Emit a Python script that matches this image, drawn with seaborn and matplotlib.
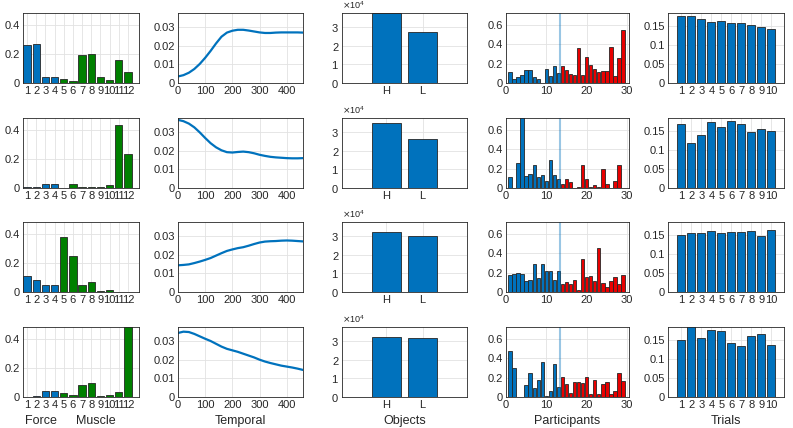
import numpy as np
import pandas as pd
import matplotlib
matplotlib.use("Agg")
import matplotlib.pyplot as plt
import seaborn as sns

# colours (MATLAB-like)
BLUE = "#0072BD"
GREEN = "#008000"
RED = "#E80000"
EDGE = "#262626"
GRID = "#e2e2e2"

# ---- column 1: force / muscle weights, 12 channels ----
muscle_idx = list(range(1, 13))
muscle_groups = ["Force"] * 4 + ["Muscle"] * 8
muscle_rows = [
    [0.26, 0.27, 0.04, 0.04, 0.03, 0.012, 0.195, 0.20, 0.04, 0.02, 0.16, 0.075],
    [0.005, 0.01, 0.03, 0.03, 0.003, 0.025, 0.01, 0.01, 0.01, 0.018, 0.43, 0.23],
    [0.11, 0.085, 0.05, 0.05, 0.38, 0.25, 0.05, 0.07, 0.005, 0.015, 0.0, 0.0],
    [0.0, 0.005, 0.04, 0.04, 0.025, 0.015, 0.08, 0.095, 0.005, 0.015, 0.035, 0.50],
]

# ---- column 2: temporal profiles ----
temporal_t = [0, 20, 40, 60, 80, 100, 120, 140, 160, 180, 200, 220,
              240, 260, 280, 300, 320, 340, 360, 380, 400, 420, 440, 460]
temporal_rows = [
    [0.0035, 0.0042, 0.0055, 0.0075, 0.0102, 0.0135, 0.0172, 0.0212, 0.0248, 0.0270, 0.0280, 0.0285,
     0.0285, 0.0281, 0.0276, 0.0271, 0.0268, 0.0268, 0.0270, 0.0271, 0.0271, 0.0271, 0.0271, 0.0270],
    [0.0365, 0.0358, 0.0345, 0.0325, 0.0298, 0.0268, 0.0240, 0.0218, 0.0202, 0.0192, 0.0190, 0.0193,
     0.0195, 0.0192, 0.0186, 0.0178, 0.0172, 0.0167, 0.0164, 0.0162, 0.0160, 0.0159, 0.0159, 0.0160],
    [0.0143, 0.0145, 0.0148, 0.0155, 0.0163, 0.0172, 0.0182, 0.0195, 0.0208, 0.0220, 0.0228, 0.0235,
     0.0240, 0.0248, 0.0257, 0.0265, 0.0270, 0.0272, 0.0273, 0.0275, 0.0276, 0.0275, 0.0273, 0.0271],
    [0.0343, 0.0350, 0.0348, 0.0338, 0.0325, 0.0312, 0.0300, 0.0285, 0.0270, 0.0258, 0.0250, 0.0242,
     0.0232, 0.0222, 0.0212, 0.0200, 0.0190, 0.0182, 0.0175, 0.0168, 0.0163, 0.0158, 0.0152, 0.0145],
]

# ---- column 3: objects ----
object_labels = ["H", "L"]
object_rows = [
    [37600, 27500],
    [35000, 26200],
    [32000, 30000],
    [32000, 31500],
]

# ---- column 4: participants ----
participant_idx = list(range(1, 30))
participant_groups = ["a"] * 13 + ["b"] * 16
participant_split = 13.5
participant_rows = [
    [0.11, 0.04, 0.06, 0.08, 0.137, 0.13, 0.06, 0.04, 0.0, 0.14, 0.07, 0.17, 0.10,
     0.17, 0.13, 0.09, 0.08, 0.36, 0.08, 0.27, 0.19, 0.145, 0.11, 0.12, 0.125, 0.37, 0.075, 0.26, 0.55],
    [0.11, 0.0, 0.26, 0.75, 0.12, 0.14, 0.24, 0.11, 0.13, 0.07, 0.29, 0.13, 0.09,
     0.04, 0.09, 0.06, 0.0, 0.01, 0.24, 0.09, 0.01, 0.03, 0.01, 0.20, 0.04, 0.0, 0.07, 0.24, 0.0],
    [0.18, 0.19, 0.195, 0.185, 0.11, 0.12, 0.29, 0.145, 0.29, 0.22, 0.22, 0.125, 0.22,
     0.08, 0.10, 0.08, 0.12, 0.02, 0.34, 0.155, 0.165, 0.11, 0.45, 0.09, 0.05, 0.11, 0.155, 0.08, 0.17],
    [0.47, 0.30, 0.0, 0.0, 0.12, 0.25, 0.09, 0.17, 0.36, 0.01, 0.06, 0.34, 0.10,
     0.21, 0.13, 0.04, 0.15, 0.15, 0.14, 0.21, 0.03, 0.17, 0.03, 0.13, 0.15, 0.03, 0.06, 0.25, 0.16],
]

# ---- column 5: trials ----
trial_labels = [str(i) for i in range(1, 11)]
trial_rows = [
    [0.178, 0.176, 0.168, 0.162, 0.165, 0.158, 0.158, 0.154, 0.147, 0.143],
    [0.170, 0.120, 0.140, 0.175, 0.160, 0.178, 0.170, 0.148, 0.155, 0.150],
    [0.150, 0.155, 0.157, 0.162, 0.157, 0.158, 0.158, 0.162, 0.148, 0.163],
    [0.150, 0.190, 0.156, 0.176, 0.174, 0.144, 0.135, 0.161, 0.167, 0.137],
]

# layout in pixels (left, right) per column and top per row
W, H = 793, 428
col_px = [(23, 139), (178, 303), (342, 467), (506, 629), (668, 784)]
row_top = [13, 118, 222, 327]
row_h = 70

sns.set_theme(style="white")
plt.rcParams["font.family"] = ["Liberation Sans", "DejaVu Sans"]


def style_axes(ax):
    for s in ax.spines.values():
        s.set_color(EDGE)
        s.set_linewidth(0.6)
        s.set_visible(True)
    ax.tick_params(direction="in", length=2.5, width=0.5, pad=2,
                   labelsize=8, colors=EDGE)
    ax.grid(True, color=GRID, linewidth=0.6)
    ax.set_axisbelow(True)
    ax.set_xlabel("")
    ax.set_ylabel("")


def set_g_ticks(ax, axis, ticks):
    labels = [f"{t:g}" for t in ticks]
    if axis == "x":
        ax.set_xticks(ticks, labels=labels)
    else:
        ax.set_yticks(ticks, labels=labels)


fig = plt.figure(figsize=(W / 100, H / 100), dpi=100)

for r in range(4):
    axes = []
    for (x0, x1) in col_px:
        top = row_top[r]
        axes.append(fig.add_axes([x0 / W, 1 - (top + row_h) / H, (x1 - x0) / W, row_h / H]))
    a1, a2, a3, a4, a5 = axes

    # column 1
    df = pd.DataFrame({"x": muscle_idx, "y": muscle_rows[r], "g": muscle_groups})
    sns.barplot(data=df, x="x", y="y", hue="g", palette={"Force": BLUE, "Muscle": GREEN},
                dodge=False, native_scale=True, width=0.8, errorbar=None, saturation=1,
                edgecolor=EDGE, linewidth=0.6, legend=False, ax=a1)
    style_axes(a1)
    a1.set_xticks(muscle_idx, labels=[str(i) for i in muscle_idx])
    a1.set_xlim(0.55, 13.2)
    set_g_ticks(a1, "y", [0, 0.2, 0.4])
    a1.set_ylim(0, 0.48)

    # column 2
    sns.lineplot(x=temporal_t, y=temporal_rows[r], color=BLUE, linewidth=1.6, ax=a2)
    style_axes(a2)
    set_g_ticks(a2, "x", [0, 100, 200, 300, 400])
    set_g_ticks(a2, "y", [0, 0.01, 0.02, 0.03])
    a2.set_xlim(0, 460)
    a2.set_ylim(0, 0.0375)

    # column 3
    sns.barplot(x=object_labels, y=object_rows[r], color=BLUE, width=0.8, errorbar=None,
                edgecolor=EDGE, linewidth=0.6, saturation=1, ax=a3)
    style_axes(a3)
    a3.set_xlim(-1.22, 2.22)
    a3.set_ylim(0, 37500)
    a3.set_yticks([0, 10000, 20000, 30000])
    a3.ticklabel_format(axis="y", style="sci", scilimits=(4, 4), useMathText=True)
    a3.yaxis.get_offset_text().set_fontsize(6.5)
    a3.yaxis.get_offset_text().set_color(EDGE)

    # column 4
    df = pd.DataFrame({"x": participant_idx, "y": participant_rows[r], "g": participant_groups})
    sns.barplot(data=df, x="x", y="y", hue="g", palette={"a": BLUE, "b": RED},
                dodge=False, native_scale=True, width=0.85, errorbar=None, saturation=1,
                edgecolor=EDGE, linewidth=0.6, legend=False, ax=a4)
    style_axes(a4)
    a4.axvline(participant_split, color=BLUE, alpha=0.4, linewidth=1.5)
    set_g_ticks(a4, "x", [0, 10, 20, 30])
    set_g_ticks(a4, "y", [0, 0.2, 0.4, 0.6])
    a4.set_xlim(0, 30.5)
    a4.set_ylim(0, 0.72)

    # column 5
    sns.barplot(x=trial_labels, y=trial_rows[r], color=BLUE, width=0.8, errorbar=None,
                edgecolor=EDGE, linewidth=0.6, saturation=1, ax=a5)
    style_axes(a5)
    a5.set_xlim(-1.35, 10.3)
    set_g_ticks(a5, "y", [0, 0.05, 0.1, 0.15])
    a5.set_ylim(0, 0.185)

    if r == 3:
        trans = a1.get_xaxis_transform()
        a1.text(2.5, -0.34, "Force", transform=trans, ha="center", va="center",
                fontsize=9, color=EDGE)
        a1.text(8.5, -0.34, "Muscle", transform=trans, ha="center", va="center",
                fontsize=9, color=EDGE)
        for ax, name in zip([a2, a3, a4, a5], ["Temporal", "Objects", "Participants", "Trials"]):
            ax.text(0.5, -0.34, name, transform=ax.transAxes, ha="center", va="center",
                    fontsize=9, color=EDGE)

fig.savefig("out.png", dpi=100)
